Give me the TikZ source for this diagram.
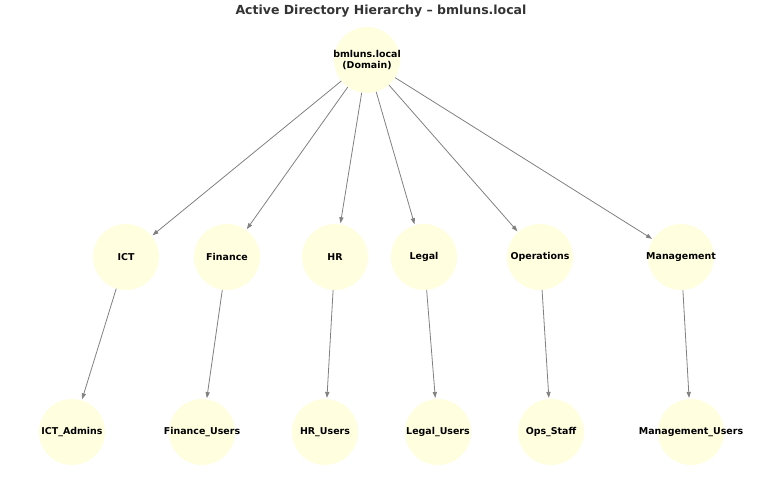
\documentclass[tikz,border=0pt]{standalone}
\usepackage{fontspec}
\setmainfont{DejaVu Sans}
\usepackage{xcolor}
\usetikzlibrary{arrows.meta}

\definecolor{nodefill}{HTML}{FFFFE0}
\definecolor{edgegray}{HTML}{808080}
\definecolor{titlegray}{HTML}{333333}

\begin{document}
\begin{tikzpicture}[
    x=1pt, y=-1pt,
    ou/.style={circle, fill=nodefill, minimum size=66pt, inner sep=0pt},
    lbl/.style={font=\fontsize{9.45}{10.2}\selectfont\bfseries, align=center},
    arrow/.style={-{Triangle[length=6pt, width=4.2pt]}, edgegray, line width=0.8pt, shorten >=1pt}
]
\useasboundingbox (0,0) rectangle (763,477);

% Titel
\node[font=\fontsize{12.5}{14}\selectfont\bfseries, text=titlegray] (title) at (381,11) {Active Directory Hierarchy – bmluns.local};

% Domain
\node[ou, label={[lbl]center:bmluns.local\\(Domain)}] (domain) at (367,60) {};

% Organisationseinheiten
\node[ou, label={[lbl]center:ICT}] (ict) at (126,257) {};
\node[ou, label={[lbl]center:Finance}] (fin) at (227,257) {};
\node[ou, label={[lbl]center:HR}] (hr) at (335,257) {};
\node[ou, label={[lbl]center:Legal}] (legal) at (424,257) {};
\node[ou, label={[lbl]center:Operations}] (ops) at (540,257) {};
\node[ou, label={[lbl]center:Management}] (mgmt) at (681,257) {};

% Gruppen
\node[ou, label={[lbl]center:ICT\_Admins}] (ictg) at (72,432) {};
\node[ou, label={[lbl]center:Finance\_Users}] (fing) at (202,432) {};
\node[ou, label={[lbl]center:HR\_Users}] (hrg) at (325,432) {};
\node[ou, label={[lbl]center:Legal\_Users}] (legalg) at (438,432) {};
\node[ou, label={[lbl]center:Ops\_Staff}] (opsg) at (551,432) {};
\node[ou, label={[lbl]center:Management\_Users}] (mgmtg) at (691,432) {};

% Pfeile
\foreach \u in {ict,fin,hr,legal,ops,mgmt} {
    \draw[arrow] (domain) -- (\u);
    \draw[arrow] (\u) -- (\u g);
}

\end{tikzpicture}
\end{document}
